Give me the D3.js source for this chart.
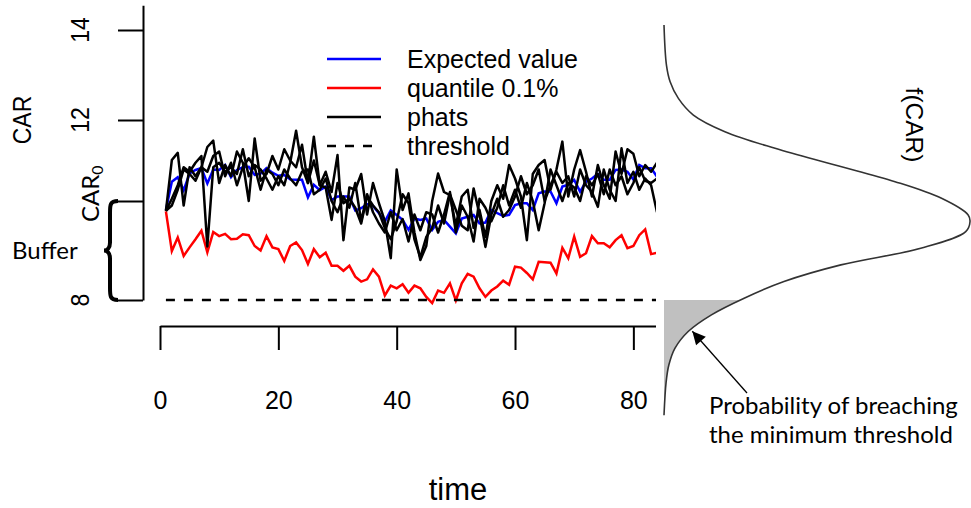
<!DOCTYPE html>
<html>
<head>
<meta charset="utf-8">
<script src="https://cdn.jsdelivr.net/npm/d3@7/dist/d3.min.js"></script>
<style>
  body { margin: 0; background: #fff; }
  svg { display: block; }
</style>
</head>
<body>
<div id="chart"></div>
<script>
// values, one per time step (t = 1..84)
var expected = [
  10.0, 10.63, 10.73, 10.44, 10.81, 10.89, 10.93, 10.59, 10.90, 10.89,
  11.0, 10.73, 10.89, 10.95, 10.96, 10.78, 10.81, 10.93, 10.83, 10.76,
  10.78, 10.68, 10.67, 10.67, 10.28, 10.56, 10.44, 10.52, 10.22, 10.30,
  10.30, 10.30, 9.99, 10.04, 10.13, 10.09, 9.93, 9.74, 9.99, 9.89,
  9.78, 9.56, 9.81, 9.78, 9.81, 9.56, 9.74, 9.78, 9.63, 9.48,
  9.81, 9.85, 9.89, 9.70, 9.72, 10.0, 9.93, 9.87, 9.89, 10.11,
  10.15, 10.15, 10.0, 10.37, 10.41, 10.41, 10.15, 10.52, 10.56, 10.67,
  10.41, 10.63, 10.70, 10.80, 10.67, 10.67, 10.89, 10.90, 10.85, 10.68,
  11.0, 10.93, 10.93, 10.74
];
var quantile = [
  9.97, 9.09, 9.39, 8.98, 9.17, 9.35, 9.54, 9.06, 9.51, 9.42,
  9.47, 9.35, 9.36, 9.46, 9.44, 9.20, 9.10, 9.42, 9.17, 9.13,
  8.87, 9.20, 9.28, 9.11, 8.80, 9.13, 8.95, 9.05, 8.76, 8.76,
  8.65, 8.76, 8.52, 8.41, 8.46, 8.68, 8.52, 8.10, 8.32, 8.26,
  8.35, 8.16, 8.32, 8.26, 8.07, 7.93, 8.21, 8.16, 8.37, 7.99,
  8.37, 8.58, 8.52, 8.26, 8.07, 8.21, 8.30, 8.43, 8.34, 8.74,
  8.72, 8.60, 8.46, 8.85, 8.84, 8.83, 8.59, 9.16, 8.93, 9.41,
  8.96, 9.04, 9.42, 9.26, 9.26, 9.17, 9.33, 9.44, 9.15, 9.20,
  9.44, 9.57, 9.02, 9.05
];
var phat1 = [
  9.98, 10.25, 10.55, 10.95, 10.85, 11.05, 11.2, 9.19, 10.95, 11.05,
  10.85, 10.95, 10.8, 11.35, 10.75, 11.0, 10.9, 10.7, 10.45, 10.75,
  10.55, 11.05, 11.76, 10.95, 10.6, 11.1, 10.55, 10.5, 9.78, 10.6,
  10.15, 10.25, 10.05, 9.7, 10.3, 10.1, 9.95, 9.6, 9.35, 9.75,
  10.35, 10.15, 9.35, 8.95, 9.4, 9.6, 10.1, 9.7, 10.35, 10.0,
  9.65, 9.55, 10.48, 9.9, 9.18, 9.9, 10.25, 9.85, 10.0, 10.3,
  10.75, 10.35, 10.55, 10.9, 10.2, 10.55, 10.85, 10.6, 10.75, 10.3,
  10.9, 10.55, 10.4, 10.07, 10.9, 10.45, 10.2, 11.37, 10.6, 10.85,
  10.45, 10.7, 10.55, 9.95
];
var phat2 = [
  9.98, 11.11, 11.27, 10.1, 10.95, 10.75, 10.95, 11.4, 11.54, 10.6,
  11.0, 10.75, 11.3, 11.05, 10.2, 11.59, 10.65, 10.8, 11.2, 10.9,
  11.35, 11.1, 10.95, 11.45, 10.6, 11.63, 10.55, 10.85, 10.4, 11.22,
  9.33, 10.5, 10.45, 10.8, 9.9, 10.6, 10.15, 9.75, 8.93, 10.9,
  10.0, 10.37, 9.5, 8.89, 9.2, 10.2, 10.81, 10.4, 10.33, 9.65,
  10.3, 10.45, 9.6, 10.0, 9.4, 10.2, 10.55, 10.25, 11.0, 10.7,
  10.3, 9.33, 10.8, 11.0, 11.11, 10.45, 10.9, 11.52, 10.3, 10.9,
  11.33, 10.85, 10.3, 11.0, 10.55, 10.25, 11.3, 10.8, 11.35, 11.25,
  10.75, 11.0, 10.85, 11.05
];
var phat3 = [
  9.98, 10.1, 10.45, 10.9, 10.8, 10.65, 10.95, 10.85, 11.2, 11.3,
  10.75, 11.05, 10.55, 10.95, 11.15, 10.95, 10.45, 10.9, 10.8, 10.55,
  10.9, 10.7, 10.55, 10.85, 10.9, 10.35, 10.45, 10.7, 10.2, 9.95,
  10.3, 10.05, 10.6, 9.75, 10.35, 9.95, 9.7, 9.5, 9.95, 9.55,
  9.8, 9.3, 9.9, 9.55, 9.95, 9.9, 9.5, 9.9, 10.4, 9.5,
  10.1, 9.85, 9.3, 10.25, 10.05, 9.75, 10.05, 10.55, 10.1, 10.45,
  10.05, 10.6, 10.2, 9.55, 10.15, 10.9, 10.55, 10.2, 10.6, 10.5,
  10.2, 10.75, 10.55, 10.8, 10.35, 10.9, 10.55, 10.75, 10.35, 10.6,
  10.95, 10.65, 10.6, 10.7
];
var threshold = 8;
var car0 = 10.2;
var xTicks = [0, 20, 40, 60, 80];
var yTicks = [8, 12, 14];
var legendLabels = ["Expected value", "quantile 0.1%", "phats", "threshold"];
var legendColors = ["#0000ff", "#ff0000", "#000000", "#000000"];

// sideways density f(CAR), relative to its peak
var densityCar = [14.11, 13.22, 12.85, 12.48, 12.11, 11.74, 11.37, 11.0, 10.63, 10.26,
                  9.89, 9.74, 9.52, 9.15, 8.78, 8.41, 8.04, 7.67, 7.30, 6.93, 6.56, 6.18, 5.44];
var densityValue = [0.0, 0.008, 0.02, 0.047, 0.096, 0.199, 0.363, 0.559, 0.755, 0.907,
                    0.994, 1.0, 0.986, 0.839, 0.578, 0.392, 0.262, 0.155, 0.079, 0.036, 0.016, 0.007, 0.0];

var width = 971, height = 508;

var svg = d3.select("#chart")
  .append("svg")
  .attr("width", width)
  .attr("height", height);

var x = d3.scaleLinear().domain([0, 100]).range([160, 751.7]);
var y = d3.scaleLinear().domain([8, 14.55]).range([300, 5.25]);
var fx = d3.scaleLinear().domain([0, 1]).range([664, 970]);

var rFont = "'Liberation Sans', Arial, sans-serif";
var pFont = "Lato, 'Open Sans', sans-serif";

var defs = svg.append("defs");
defs.append("clipPath").attr("id", "plotClip")
  .append("rect").attr("x", 0).attr("y", 0).attr("width", 656).attr("height", height);
defs.append("clipPath").attr("id", "tailClip")
  .append("rect").attr("x", 600).attr("y", y(threshold))
  .attr("width", 400).attr("height", height - y(threshold));
defs.append("marker")
  .attr("id", "arrow")
  .attr("markerUnits", "userSpaceOnUse")
  .attr("viewBox", "0 0 10 10")
  .attr("refX", 10).attr("refY", 5)
  .attr("markerWidth", 15).attr("markerHeight", 13)
  .attr("orient", "auto")
  .append("path").attr("d", "M0,0 L10,5 L0,10 Z").attr("fill", "#000");

// ---- axes ----
var yAxis = d3.axisLeft(y)
  .tickValues([8, car0, 12, 14])
  .tickSize(25)
  .tickSizeOuter(0)
  .tickFormat("");
var gy = svg.append("g")
  .attr("transform", "translate(143,0)")
  .call(yAxis);
gy.selectAll("path, line").attr("stroke", "#000").attr("stroke-width", 2);

var xAxis = d3.axisBottom(x)
  .tickValues(xTicks)
  .tickSize(24)
  .tickSizeOuter(0)
  .tickPadding(41);
var gx = svg.append("g")
  .attr("clip-path", "url(#plotClip)")
  .append("g")
  .attr("transform", "translate(0,326)")
  .call(xAxis);
gx.selectAll("path, line").attr("stroke", "#000").attr("stroke-width", 2);
gx.selectAll("text")
  .attr("font-family", rFont)
  .attr("font-size", 25)
  .attr("fill", "#000");

svg.selectAll(".ylab")
  .data(yTicks)
  .enter()
  .append("text")
  .attr("class", "ylab")
  .attr("transform", function(d) { return "translate(79," + y(d) + ") rotate(-90) scale(1,1.15)"; })
  .attr("text-anchor", "middle")
  .attr("dy", "0.36em")
  .attr("font-family", rFont)
  .attr("font-size", 23)
  .text(function(d) { return d; });

svg.append("text")
  .attr("transform", "translate(22," + y(12.0) + ") rotate(-90) scale(1,1.1)")
  .attr("text-anchor", "middle")
  .attr("dy", "0.36em")
  .attr("font-family", rFont)
  .attr("font-size", 23)
  .text("CAR");

var car0Label = svg.append("text")
  .attr("transform", "translate(90," + (y(car0) + 21) + ") rotate(-90)")
  .attr("dy", "0.36em")
  .attr("font-family", pFont)
  .attr("font-size", 24);
car0Label.append("tspan").text("CAR");
car0Label.append("tspan").attr("font-size", 16).attr("dy", "0.3em").text("0");

svg.append("text")
  .attr("x", 12)
  .attr("y", (y(threshold) + y(car0)) / 2)
  .attr("dy", "0.36em")
  .attr("font-family", pFont)
  .attr("font-size", 24)
  .text("Buffer");

// curly brace between threshold and CAR0
var bTop = y(car0), bBot = y(threshold), bMid = (bTop + bBot) / 2;
svg.append("path")
  .attr("d",
    "M118," + bTop +
    " C110," + bTop + " 110," + (bTop + 4) + " 110," + (bTop + 12) +
    " L110," + (bMid - 8) +
    " C110," + (bMid - 2) + " 107," + bMid + " 104," + bMid +
    " C107," + bMid + " 110," + (bMid + 2) + " 110," + (bMid + 8) +
    " L110," + (bBot - 12) +
    " C110," + (bBot - 4) + " 110," + bBot + " 118," + bBot)
  .attr("fill", "none")
  .attr("stroke", "#000")
  .attr("stroke-width", 4);

// ---- series ----
var line = d3.line()
  .x(function(d, i) { return x(i + 1); })
  .y(function(d) { return y(d); });

var plot = svg.append("g").attr("clip-path", "url(#plotClip)");

plot.append("path")
  .datum(expected)
  .attr("d", line)
  .attr("fill", "none")
  .attr("stroke", "#0000ff")
  .attr("stroke-width", 2.5);

plot.append("path")
  .datum(quantile)
  .attr("d", line)
  .attr("fill", "none")
  .attr("stroke", "#ff0000")
  .attr("stroke-width", 2.5);

plot.selectAll(".phat")
  .data([phat1, phat2, phat3])
  .enter()
  .append("path")
  .attr("class", "phat")
  .attr("d", line)
  .attr("fill", "none")
  .attr("stroke", "#000")
  .attr("stroke-width", 2.5)
  .attr("stroke-linejoin", "round");

plot.append("path")
  .datum(expected.map(function() { return threshold; }))
  .attr("d", line)
  .attr("fill", "none")
  .attr("stroke", "#000")
  .attr("stroke-width", 2.5)
  .attr("stroke-dasharray", "9,9");

// ---- legend ----
var legend = svg.selectAll(".legend")
  .data(legendLabels)
  .enter()
  .append("g")
  .attr("class", "legend")
  .attr("transform", function(d, i) { return "translate(0," + (59 + i * 29) + ")"; });
legend.append("line")
  .attr("x1", 327).attr("x2", 381)
  .attr("stroke", function(d, i) { return legendColors[i]; })
  .attr("stroke-width", 2.5)
  .attr("stroke-dasharray", function(d, i) { return i === 3 ? "9,9" : null; });
legend.append("text")
  .attr("x", 407)
  .attr("dy", "0.36em")
  .attr("font-family", rFont)
  .attr("font-size", 25)
  .text(function(d) { return d; });

svg.append("text")
  .attr("x", 458)
  .attr("y", 500)
  .attr("text-anchor", "middle")
  .attr("font-family", rFont)
  .attr("font-size", 31)
  .text("time");

// ---- sideways density on the right ----
var density = densityCar.map(function(c, i) { return { car: c, f: densityValue[i] }; });

var area = d3.area()
  .y(function(d) { return y(d.car); })
  .x0(fx(0))
  .x1(function(d) { return fx(d.f); })
  .curve(d3.curveCatmullRom.alpha(0.5));

svg.append("path")
  .datum(density)
  .attr("d", area)
  .attr("clip-path", "url(#tailClip)")
  .attr("fill", "#c0c0c0");

svg.append("path")
  .datum(density)
  .attr("d", d3.line()
    .y(function(d) { return y(d.car); })
    .x(function(d) { return fx(d.f); })
    .curve(d3.curveCatmullRom.alpha(0.5)))
  .attr("fill", "none")
  .attr("stroke", "#333")
  .attr("stroke-width", 1.6);

svg.append("text")
  .attr("transform", "translate(915,125) rotate(90)")
  .attr("text-anchor", "middle")
  .attr("dy", "0.36em")
  .attr("font-family", rFont)
  .attr("font-size", 24.5)
  .text("f(CAR)");

var fAt = d3.scaleLinear().domain(densityCar).range(densityValue);
var tipCar = 7.35;
svg.append("line")
  .attr("x1", 747).attr("y1", 393)
  .attr("x2", fx(fAt(tipCar)) + 1).attr("y2", y(tipCar) + 2)
  .attr("stroke", "#000")
  .attr("stroke-width", 1.3)
  .attr("marker-end", "url(#arrow)");

var note = svg.append("text")
  .attr("font-family", pFont)
  .attr("font-size", 24)
  .attr("fill", "#000");
note.append("tspan").attr("x", 709).attr("y", 414).text("Probability of breaching");
note.append("tspan").attr("x", 709).attr("y", 443).text("the minimum threshold");
</script>
</body>
</html>
